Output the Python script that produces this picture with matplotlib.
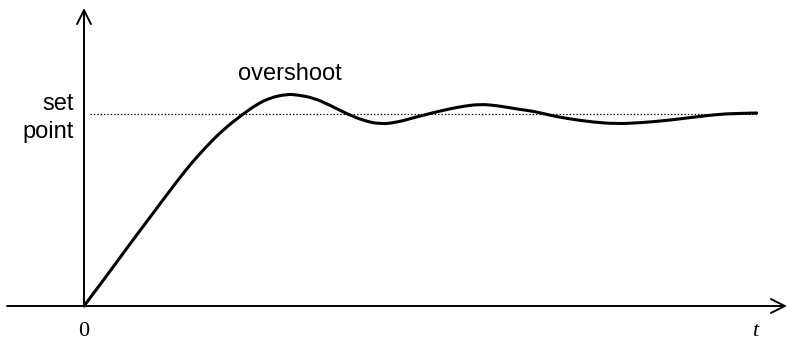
import matplotlib
matplotlib.use("Agg")
import matplotlib.pyplot as plt
from matplotlib import font_manager
from matplotlib.path import Path
from matplotlib.patches import PathPatch

# -----------------------------
# Data
# -----------------------------
t = [0, 20, 44.3, 69.3, 94.3, 107.7, 122.7, 139.3, 159.3, 172.7, 186, 202.7,
     212.7, 229.3, 246, 262.7, 279.3, 296, 312.7, 329.3, 346, 362.7, 379.3,
     396, 412.7, 436, 449.3, 466, 482.7, 509.3, 532.7, 556, 582.7, 609.3,
     632.7, 649.3, 672.7]
response = [0, 26.5, 59.8, 93.2, 126.5, 143.2, 159.8, 176.5, 192.2, 201.5,
            208.2, 211.8, 211.2, 208.2, 200.8, 192.2, 185.5, 181.8, 183.6,
            188.2, 192.5, 196.5, 199.8, 201.8, 200.5, 196.5, 194.8, 190.8,
            187.5, 183.8, 182.2, 183.2, 185.5, 188.8, 191.5, 192.5, 193]
set_point = 192
set_point_span = [6, 673]

# -----------------------------
# Fonts
# -----------------------------
names = {f.name for f in font_manager.fontManager.ttflist}
label_font = "Liberation Sans Narrow" if "Liberation Sans Narrow" in names else "Liberation Sans"

# -----------------------------
# Figure
# -----------------------------
fig = plt.figure(figsize=(7.93, 3.41), dpi=100)
ax = fig.add_axes([0, 0, 1, 1])
ax.set_xlim(-84, 709)
ax.set_ylim(-35, 306)
ax.axis("off")

# axes with open arrow heads
arrow = dict(arrowstyle="->,head_length=1.0,head_width=0.5", lw=1.4,
             color="black", shrinkA=0, shrinkB=0)
ax.annotate("", xy=(703, 0), xytext=(-77, 0), arrowprops=arrow)
ax.annotate("", xy=(0, 298), xytext=(0, 0), arrowprops=arrow)

# set point
ax.plot(set_point_span, [set_point, set_point], color="black", lw=0.9,
        linestyle=(0, (1.1, 1.6)))

# response: smooth quadratic bezier through midpoints of the read points
pts = list(zip(t, response))
verts = [pts[0]]
codes = [Path.MOVETO]
for i in range(1, len(pts) - 1):
    mid = ((pts[i][0] + pts[i + 1][0]) / 2, (pts[i][1] + pts[i + 1][1]) / 2)
    if i == len(pts) - 2:
        mid = pts[-1]
    verts += [pts[i], mid]
    codes += [Path.CURVE3, Path.CURVE3]
ax.add_patch(PathPatch(Path(verts, codes), fill=False, edgecolor="black",
                       lw=2.2, capstyle="round", joinstyle="round"))

# labels
ax.text(-10, 196, "set", ha="right", va="baseline", fontsize=17,
        family=label_font)
ax.text(-10, 168, "point", ha="right", va="baseline", fontsize=17,
        family=label_font)
ax.text(154, 226, "overshoot", ha="left", va="baseline", fontsize=17,
        family=label_font)
ax.text(0, -26, "0", ha="center", va="center", fontsize=16,
        family="Liberation Serif")
ax.text(671, -26, "t", ha="center", va="center", fontsize=16,
        family="Liberation Serif", style="italic")

fig.savefig("out.png", dpi=100)
